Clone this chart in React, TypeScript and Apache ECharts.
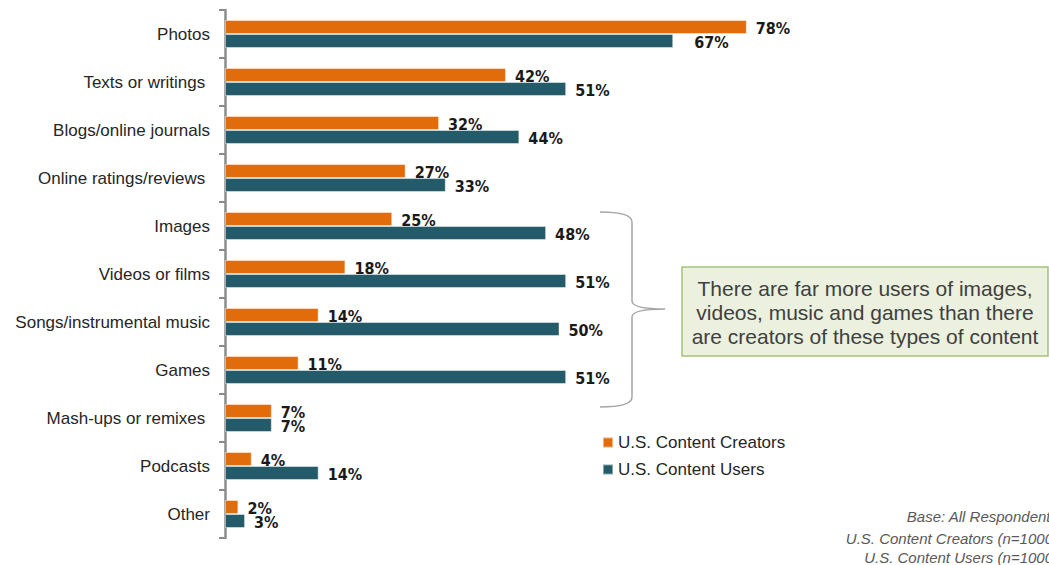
import React, { useEffect, useRef } from "react";
import * as echarts from "echarts";

const categories = [
  "Photos",
  "Texts or writings ",
  "Blogs/online journals",
  "Online ratings/reviews ",
  "Images",
  "Videos or films",
  "Songs/instrumental music",
  "Games",
  "Mash-ups or remixes ",
  "Podcasts",
  "Other",
];
const creators = [78, 42, 32, 27, 25, 18, 14, 11, 7, 4, 2];
const users = [67, 51, 44, 33, 48, 51, 50, 51, 7, 14, 3];
const seriesNames = ["U.S. Content Creators", "U.S. Content Users"];
const calloutLines = [
  "There are far more users of images,",
  "videos, music and games than there",
  "are creators of these types of content",
];
const baseLines = [
  "Base: All Respondents",
  "U.S. Content Creators (n=1000)",
  "U.S. Content Users (n=1000)",
];

const BRACE_D =
  "M 600 212 Q 632 212 632 222 L 632 301 Q 632 309 665 309 Q 632 309 632 317 L 632 397 Q 632 407 600 407";

let braceRegistered = false;

export default function App() {
  const ref = useRef<HTMLDivElement>(null);
  useEffect(() => {
    if (!ref.current) return;
    if (!braceRegistered) {
      echarts.graphic.registerShape("brace", echarts.graphic.extendPath(BRACE_D, {}));
      braceRegistered = true;
    }
    const chart = echarts.init(ref.current, undefined, { renderer: "svg" });
    const valueFont = {
      fontFamily: "'Liberation Sans Narrow', 'DejaVu Sans Condensed', 'Liberation Sans', sans-serif",
      fontWeight: "bold" as const,
      fontSize: 16,
      color: "#1a1a1a",
    };
    const labelCommon = {
      show: true,
      position: "right" as const,
      distance: 9,
      offset: [0, 1.5],
      formatter: "{c}%",
      ...valueFont,
    };
    chart.setOption({
      animation: false,
      backgroundColor: "#ffffff",
      grid: { left: 225, top: 10, width: 669, bottom: 27 },
      legend: {
        orient: "vertical",
        left: 597,
        top: 429,
        itemWidth: 10,
        itemHeight: 10,
        itemGap: 10,
        icon: "rect",
        textStyle: { fontFamily: "'Liberation Sans', Arial, sans-serif", fontSize: 17, color: "#262626" },
        data: seriesNames,
      },
      xAxis: {
        type: "value",
        min: 0,
        max: 100,
        show: false,
        splitLine: { show: false },
      },
      yAxis: {
        type: "category",
        data: categories,
        inverse: true,
        axisLine: { show: true, lineStyle: { color: "#8c8c8c", width: 2.5 } },
        axisTick: { show: true, length: 6, lineStyle: { color: "#8c8c8c", width: 2 } },
        axisLabel: {
          margin: 15,
          fontFamily: "'Liberation Sans', Arial, sans-serif",
          fontSize: 17,
          color: "#262626",
        },
      },
      series: [
        {
          name: seriesNames[0],
          type: "bar",
          data: creators,
          barWidth: 14,
          barGap: "0%",
          itemStyle: { color: "#E36C0A", borderColor: "rgba(255,255,255,0.45)", borderWidth: 1 },
          label: labelCommon,
        },
        {
          name: seriesNames[1],
          type: "bar",
          data: users.map((v, i) => (i === 0 ? { value: v, label: { distance: 21 } } : v)),
          barWidth: 14,
          itemStyle: { color: "#235B69", borderColor: "rgba(255,255,255,0.45)", borderWidth: 1 },
          label: labelCommon,
        },
      ],
      graphic: [
        {
          type: "brace",
          x: 0,
          y: 0,
          z: 10,
          style: { stroke: "#a6a6a6", lineWidth: 1.5, fill: "none" },
        },
        {
          type: "rect",
          z: 10,
          shape: { x: 682, y: 267, width: 366, height: 89 },
          style: { fill: "#EBF1DE", stroke: "#A6C27A", lineWidth: 1.5 },
        },
        {
          type: "text",
          z: 11,
          x: 865,
          y: 312,
          style: {
            text: calloutLines.join("\n"),
            textAlign: "center",
            textVerticalAlign: "middle",
            font: "21px 'Liberation Sans', Arial, sans-serif",
            lineHeight: 24,
            fill: "#404040",
          },
        },
        ...baseLines.map((t, i) => ({
          type: "text",
          z: 11,
          x: 1058,
          y: [516, 538, 557][i],
          style: {
            text: t,
            textAlign: "right",
            textVerticalAlign: "middle",
            font: "italic 15px 'Liberation Sans', Arial, sans-serif",
            fill: "#595959",
          },
        })),
      ],
    });
    return () => chart.dispose();
  }, []);
  return (
    <div
      ref={ref}
      style={{ position: "fixed", left: 0, top: 0, width: 1049, height: 565, background: "#fff" }}
    />
  );
}
